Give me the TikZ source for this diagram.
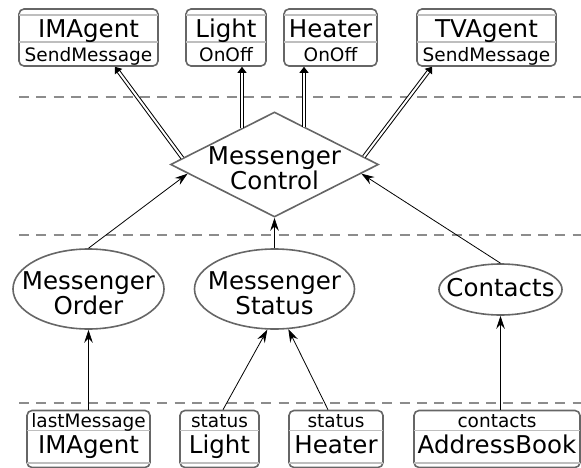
\documentclass[tikz,border=0pt]{standalone}
\usepackage{fontspec}
\setmainfont{DejaVu Sans}
\usetikzlibrary{arrows.meta}
\usetikzlibrary{shapes.geometric}

\definecolor{boxgray}{RGB}{102,102,102}
\definecolor{dashgray}{RGB}{140,140,140}
\definecolor{sepgray}{RGB}{190,190,190}

\tikzset{
  agent/.style={draw=boxgray, line width=1.6pt, rounded corners=5pt, minimum height=57pt, inner sep=0pt},
  part/.style={draw=sepgray, line width=1.5pt, shorten <=0.8pt, shorten >=0.8pt},
  layer/.style={draw=dashgray, line width=2pt, dash pattern=on 10pt off 7.3pt},
  goal/.style={ellipse, draw=boxgray, line width=1.6pt, inner sep=0pt},
  bigtext/.style={font=\fontsize{24.5}{25}\selectfont, inner sep=0pt, align=center},
  smalltext/.style={font=\fontsize{18.5}{19}\selectfont, inner sep=0pt},
  flow/.style={-{Stealth[length=13pt,width=8.5pt,inset=4.5pt]}, line width=0.8pt},
  call/.style={-{Triangle[length=6pt,width=9pt]}, double, double distance=2pt, line width=1pt}
}

\begin{document}
\begin{tikzpicture}[x=1pt, y=-1pt]
          \useasboundingbox (0,0) rectangle (581,468);

          % layers
          \draw[layer] (19,97.5) -- (581,97.5);
          \draw[layer] (19,235) -- (581,235);
          \draw[layer] (19,403) -- (581,403);

          % actuators on top
          \node[agent, minimum width=139pt] (imtop) at (88.5,37.5) {};
          \node[agent, minimum width=80pt] (lighttop) at (226,37.5) {};
          \node[agent, minimum width=93pt] (heattop) at (330.5,37.5) {};
          \node[agent, minimum width=139pt] (tvtop) at (486.5,37.5) {};
          \foreach \b in {imtop, lighttop, heattop, tvtop} {
            \draw[part] ([yshift=-7pt]\b.north west) -- ([yshift=-7pt]\b.north east);
            \draw[part] ([yshift=-34pt]\b.north west) -- ([yshift=-34pt]\b.north east);
          }
          \node[bigtext, anchor=base] (imtopname) at (88.5,37.5) {IMAgent};
          \node[smalltext, anchor=base] (imtopop) at (88.5,61.5) {SendMessage};
          \node[bigtext, anchor=base] (lighttopname) at (226,37.5) {Light};
          \node[smalltext, anchor=base] (lighttopop) at (226,61.5) {OnOff};
          \node[bigtext, anchor=base] (heattopname) at (330.5,37.5) {Heater};
          \node[smalltext, anchor=base] (heattopop) at (330.5,61.5) {OnOff};
          \node[bigtext, anchor=base] (tvtopname) at (486.5,37.5) {TVAgent};
          \node[smalltext, anchor=base] (tvtopop) at (486.5,61.5) {SendMessage};

          % control
          \node[diamond, draw=boxgray, line width=1.6pt, inner sep=0pt,
                minimum width=208pt, minimum height=105pt] (ctrl) at (274.5,164.5) {};
          \node[bigtext] (ctrltext) at (274.5,168) {Messenger\\Control};

          % goals
          \node[goal, minimum width=151pt, minimum height=80pt] (order) at (88.5,289) {};
          \node[bigtext] (ordertext) at (88.5,293.5) {Messenger\\Order};
          \node[goal, minimum width=160pt, minimum height=80pt] (status) at (274.5,289) {};
          \node[bigtext] (statustext) at (274.5,293.5) {Messenger\\Status};
          \node[goal, minimum width=123pt, minimum height=51pt] (contacts) at (500.5,289.5) {};
          \node[bigtext] (contactstext) at (500.5,288) {Contacts};

          % sensors at the bottom
          \node[agent, minimum width=123pt] (imbot) at (88.5,439) {};
          \node[agent, minimum width=79pt] (lightbot) at (219.5,439) {};
          \node[agent, minimum width=94pt] (heatbot) at (336,439) {};
          \node[agent, minimum width=166pt] (addrbot) at (497,439) {};
          \foreach \b in {imbot, lightbot, heatbot, addrbot} {
            \draw[part] ([yshift=-21pt]\b.north west) -- ([yshift=-21pt]\b.north east);
            \draw[part] ([yshift=5.5pt]\b.south west) -- ([yshift=5.5pt]\b.south east);
          }
          \node[smalltext, anchor=base] (imbotvar) at (88.5,427) {lastMessage};
          \node[bigtext, anchor=base] (imbotname) at (88.5,453.5) {IMAgent};
          \node[smalltext, anchor=base] (lightbotvar) at (219.5,427) {status};
          \node[bigtext, anchor=base] (lightbotname) at (219.5,453.5) {Light};
          \node[smalltext, anchor=base] (heatbotvar) at (336,427) {status};
          \node[bigtext, anchor=base] (heatbotname) at (336,453.5) {Heater};
          \node[smalltext, anchor=base] (addrbotvar) at (497,427) {contacts};
          \node[bigtext, anchor=base] (addrbotname) at (497,453.5) {AddressBook};

          % links
          \draw[flow] (imbot.north) -- (order.south);
          \draw[flow] ([xshift=3.5pt]lightbot.north) -- (status.260);
          \draw[flow] ([xshift=-8pt]heatbot.north) -- (status.289);
          \draw[flow] (addrbot.north -| contacts.south) -- (contacts.south);
          \draw[flow] (order.north) -- (ctrl.186);
          \draw[flow] (status.north) -- (ctrl.south);
          \draw[flow] (contacts.north) -- (ctrl.354);
          \draw[call] (ctrl.176) -- ([xshift=26.5pt]imtop.south);
          \draw[call] ([xshift=-32.5pt,yshift=36pt]ctrl.center) -- ([xshift=16pt]lighttop.south);
          \draw[call] ([xshift=29.5pt,yshift=37.5pt]ctrl.center) -- ([xshift=-26.5pt]heattop.south);
          \draw[call] (ctrl.5) -- ([xshift=-54.5pt]tvtop.south);
        \end{tikzpicture}
\end{document}
